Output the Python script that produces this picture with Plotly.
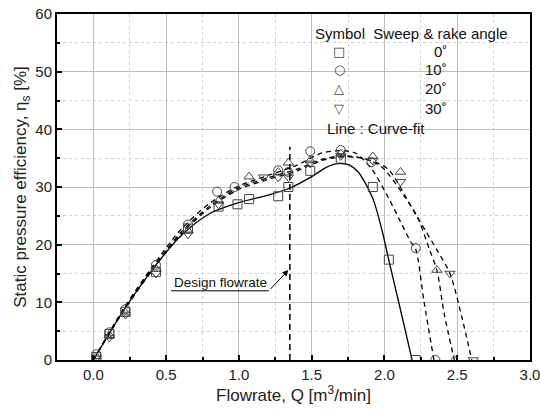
import plotly.graph_objects as go

FONT = "Arial, Liberation Sans, sans-serif"

# ---- measured points ----
q_0 = [0.02, 0.11, 0.22, 0.43, 0.65, 0.86, 0.99, 1.07, 1.27, 1.34, 1.49, 1.70, 1.92, 2.03, 2.215]
eta_0 = [0.5, 4.5, 8.3, 15.3, 22.8, 26.6, 27.0, 27.9, 28.4, 30.0, 32.8, 34.8, 30.0, 17.4, 0.0]

q_10 = [0.02, 0.11, 0.22, 0.43, 0.65, 0.85, 0.97, 1.27, 1.34, 1.49, 1.70, 1.91, 2.215, 2.35]
eta_10 = [1.0, 4.8, 8.8, 16.5, 23.5, 29.2, 30.0, 32.9, 32.6, 36.2, 36.4, 34.3, 19.4, 0.0]

q_20 = [0.02, 0.11, 0.22, 0.43, 0.65, 0.86, 1.07, 1.27, 1.34, 1.49, 1.70, 1.92, 2.11, 2.36, 2.48]
eta_20 = [0.6, 4.3, 8.2, 15.8, 22.4, 27.6, 31.8, 32.6, 34.2, 34.6, 35.8, 35.3, 32.6, 15.6, 0.0]

q_30 = [0.02, 0.11, 0.22, 0.43, 0.65, 0.86, 1.17, 1.27, 1.34, 1.49, 1.70, 1.92, 2.11, 2.45, 2.61]
eta_30 = [0.3, 3.9, 7.9, 15.0, 21.8, 27.0, 31.7, 31.7, 31.7, 34.1, 35.4, 34.6, 30.9, 15.0, 0.0]

# ---- curve-fit lines ----
fit_q_0 = [0.0, 0.2, 0.4, 0.6, 0.8, 1.0, 1.2, 1.34, 1.5, 1.6, 1.68, 1.76, 1.82, 1.92, 1.98, 2.03, 2.10, 2.19]
fit_e_0 = [0.0, 8.3, 15.5, 21.5, 25.4, 27.3, 28.6, 29.7, 31.8, 33.4, 34.1, 33.8, 32.6, 28.0, 22.8, 17.3, 9.8, 0.0]

fit_q_10 = [0.0, 0.2, 0.4, 0.6, 0.8, 1.0, 1.2, 1.4, 1.57, 1.7, 1.8, 1.91, 2.03, 2.11, 2.18, 2.215, 2.27, 2.34]
fit_e_10 = [0.0, 8.6, 16.0, 22.6, 27.2, 30.2, 32.0, 33.8, 35.9, 36.3, 35.9, 33.2, 28.0, 24.0, 20.5, 19.2, 10.4, 0.0]

fit_q_20 = [0.0, 0.2, 0.4, 0.6, 0.8, 1.0, 1.2, 1.4, 1.57, 1.7, 1.85, 1.98, 2.14, 2.23, 2.31, 2.36, 2.41, 2.48]
fit_e_20 = [0.0, 8.4, 15.7, 22.1, 26.7, 29.9, 31.6, 33.1, 34.8, 35.4, 35.0, 33.5, 28.3, 24.6, 19.1, 15.6, 8.1, 0.0]

fit_q_30 = [0.0, 0.2, 0.4, 0.6, 0.8, 1.0, 1.2, 1.4, 1.57, 1.7, 1.85, 2.02, 2.19, 2.28, 2.36, 2.45, 2.53, 2.60]
fit_e_30 = [0.0, 8.2, 15.4, 21.8, 26.4, 29.6, 31.3, 32.8, 34.6, 35.2, 35.0, 33.2, 26.3, 22.5, 19.1, 15.0, 7.6, 0.0]

design_q = 1.35
design_top = 37.0
label_arrow_tail = (1.205, 12.0)
label_arrow_head = (1.34, 15.6)
label_underline_x = [0.534, 1.205]

x_ticks = [0.0, 0.5, 1.0, 1.5, 2.0, 2.5, 3.0]
y_ticks = [0, 10, 20, 30, 40, 50, 60]

MK = "#444444"
fig = go.Figure()

DASH = "5px,4px"
for fq, fe, dash in [(fit_q_0, fit_e_0, "solid"), (fit_q_10, fit_e_10, DASH),
                     (fit_q_20, fit_e_20, DASH), (fit_q_30, fit_e_30, DASH)]:
    fig.add_trace(go.Scatter(x=fq, y=fe, mode="lines", showlegend=False,
                             line=dict(color="black", width=1.3, dash=dash,
                                       shape="spline", smoothing=0.8),
                             hoverinfo="skip"))

for q, e, sym in [(q_0, eta_0, "square-open"), (q_10, eta_10, "circle-open"),
                  (q_20, eta_20, "triangle-up-open"), (q_30, eta_30, "triangle-down-open")]:
    fig.add_trace(go.Scatter(x=q, y=e, mode="markers", showlegend=False,
                             marker=dict(symbol=sym, size=9, color=MK,
                                         line=dict(width=1, color=MK))))

# design flowrate vertical line
fig.add_shape(type="line", x0=design_q, x1=design_q, y0=0, y1=design_top,
              xref="x", yref="y", line=dict(color="black", width=1.5, dash="6px,4px"))
# underline of label
fig.add_shape(type="line", x0=label_underline_x[0], x1=label_underline_x[1],
              y0=label_arrow_tail[1], y1=label_arrow_tail[1], xref="x", yref="y",
              line=dict(color="black", width=1))
fig.add_annotation(x=label_arrow_head[0], y=label_arrow_head[1], ax=label_arrow_tail[0],
                   ay=label_arrow_tail[1], axref="x", ayref="y", xref="x", yref="y",
                   text="", showarrow=True, arrowhead=2, arrowsize=1.2, arrowwidth=1,
                   arrowcolor="black")
fig.add_annotation(x=0.87, y=13.4, xref="x", yref="y", text="Design flowrate",
                   showarrow=False, font=dict(family=FONT, size=13.5, color="#111"))

# legend block (text)
leg_font = dict(family=FONT, size=15, color="#111")
fig.add_annotation(x=1.51, y=56.7, xref="x", yref="y", xanchor="left",
                   text="Symbol  Sweep &amp; rake angle", showarrow=False, font=leg_font)
sym_rows = ["□", "○", "△", "▽"]
ang_rows = ["0˚", "10˚", "20˚", "30˚"]
row_y = [53.5, 50.3, 47.1, 43.7]
for s, a, yy in zip(sym_rows, ang_rows, row_y):
    fig.add_annotation(x=1.69, y=yy, xref="x", yref="y", text=s, showarrow=False,
                       font=dict(family="DejaVu Sans", size=13, color="#444"))
    fig.add_annotation(x=2.44, y=yy, xref="x", yref="y", text=a, showarrow=False,
                       xanchor="right", font=leg_font)
fig.add_annotation(x=1.59, y=40.2, xref="x", yref="y", xanchor="left",
                   text="Line : Curve-fit", showarrow=False, font=leg_font)

axis_common = dict(showline=True, linecolor="black", linewidth=2, mirror=True,
                   ticks="inside", ticklen=5, tickwidth=2, tickcolor="black",
                   showgrid=True, gridcolor="#bdbdbd", gridwidth=1, zeroline=False,
                   automargin=False, ticklabeloverflow="allow",
                   tickfont=dict(family=FONT, size=15, color="#222"))

fig.update_xaxes(range=[-0.25, 3.0], tickvals=x_ticks, tickformat=".1f",
                 title=dict(text="Flowrate, Q [m<sup>3</sup>/min]",
                            font=dict(family=FONT, size=17, color="#222"), standoff=6),
                 minor=dict(dtick=0.25, tick0=0, ticks="inside", ticklen=3, tickcolor="black",
                            showgrid=True, gridcolor="#d0d0d0", griddash="dot"),
                 **axis_common)
fig.update_yaxes(range=[0, 60], tickvals=y_ticks,
                 title=dict(text="Static pressure efficiency, η<sub>s</sub> [%]",
                            font=dict(family=FONT, size=17, color="#222"), standoff=4),
                 minor=dict(dtick=5, tick0=0, ticks="inside", ticklen=3, tickcolor="black",
                            showgrid=True, gridcolor="#d0d0d0", griddash="dot"),
                 **axis_common)

fig.update_layout(width=540, height=416, margin=dict(l=57, r=10, t=14, b=56),
                  plot_bgcolor="white", paper_bgcolor="white", showlegend=False)

# remove the default page-body margin so the figure sits at the window origin
fig.write_html("out.html", config={"displayModeBar": False},
               post_script="document.body.style.margin='0';document.body.style.overflow='hidden';")
